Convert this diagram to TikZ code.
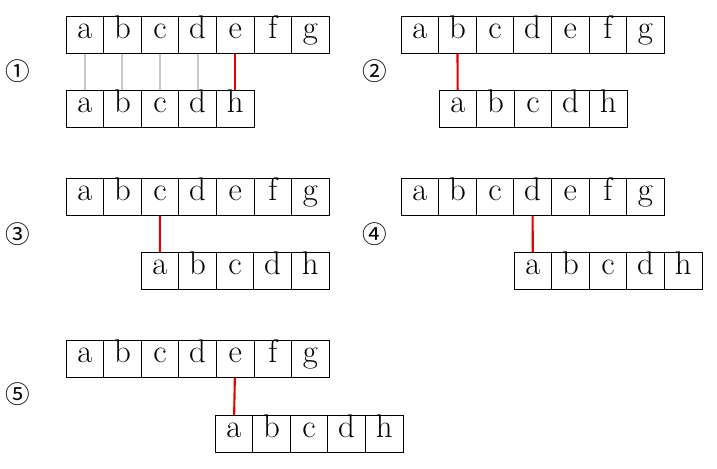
\documentclass[tikz,border=0pt]{standalone}
\usepackage{fontspec}
\usepackage{xcolor}
\usepackage{tikz}
\newfontfamily\circfont{Noto Sans CJK SC}
\definecolor{linkgray}{RGB}{200,200,200}
\definecolor{linkred}{RGB}{228,0,0}
\tikzset{
    cell/.style = {rectangle, draw=black, line width=0.8pt, inner sep=0pt, outer sep=0pt,
        minimum width=1.128cm, minimum height=1.125cm,
        text height=0.7em, text depth=0pt, font=\fontsize{28}{30}\selectfont},
    step_no/.style = {font=\circfont\fontsize{21}{24}\selectfont, inner sep=0pt},
}

\begin{document}
\begin{tikzpicture}[x=0.03cm, y=-0.03cm]
\tikzset{
    linkg/.style = {-, line width=1.8pt, linkgray},
    linkr/.style = {-, line width=1.8pt, linkred},
}
\useasboundingbox (0,0) rectangle (717,469);
% step numbers
\node[step_no] at (18,71.5) (n1) {①};
\node[step_no] at (375,71.5) (n2) {②};
\node[step_no] at (18,234.5) (n3) {③};
\node[step_no] at (375,234.5) (n4) {④};
\node[step_no] at (18,394.5) (n5) {⑤};
%
\foreach \t [count=\i] in {a,b,c,d,e,f,g}
    \node[cell] (u1\t) at ({66+(\i-0.5)*37.6},34.75) {\t};
\foreach \t [count=\i] in {a,b,c,d,h}
    \node[cell] (l1\t) at ({66+(\i-0.5)*37.6},108.75) {\t};
%
\foreach \t [count=\i] in {a,b,c,d,e,f,g}
    \node[cell] (u2\t) at ({401+(\i-0.5)*37.6},34.75) {\t};
\foreach \t [count=\i] in {a,b,c,d,h}
    \node[cell] (l2\t) at ({439+(\i-0.5)*37.6},108.75) {\t};
%
\foreach \t [count=\i] in {a,b,c,d,e,f,g}
    \node[cell] (u3\t) at ({66+(\i-0.5)*37.6},196.75) {\t};
\foreach \t [count=\i] in {a,b,c,d,h}
    \node[cell] (l3\t) at ({141+(\i-0.5)*37.6},270.75) {\t};
%
\foreach \t [count=\i] in {a,b,c,d,e,f,g}
    \node[cell] (u4\t) at ({401+(\i-0.5)*37.6},196.75) {\t};
\foreach \t [count=\i] in {a,b,c,d,h}
    \node[cell] (l4\t) at ({514+(\i-0.5)*37.6},270.75) {\t};
%
\foreach \t [count=\i] in {a,b,c,d,e,f,g}
    \node[cell] (u5\t) at ({66+(\i-0.5)*37.6},358.75) {\t};
\foreach \t [count=\i] in {a,b,c,d,h}
    \node[cell] (l5\t) at ({215+(\i-0.5)*37.6},433.75) {\t};
%
\draw[linkg] (u1a) -- (l1a);
\draw[linkg] (u1b) -- (l1b);
\draw[linkg] (u1c) -- (l1c);
\draw[linkg] (u1d) -- (l1d);
\draw[linkr] (u1e) -- (l1h);
%
\draw[linkr] (u2b) -- (l2a);
\draw[linkr] (u3c) -- (l3a);
\draw[linkr] (u4d) -- (l4a);
\draw[linkr] (u5e) -- (l5a);
\end{tikzpicture}
\end{document}
